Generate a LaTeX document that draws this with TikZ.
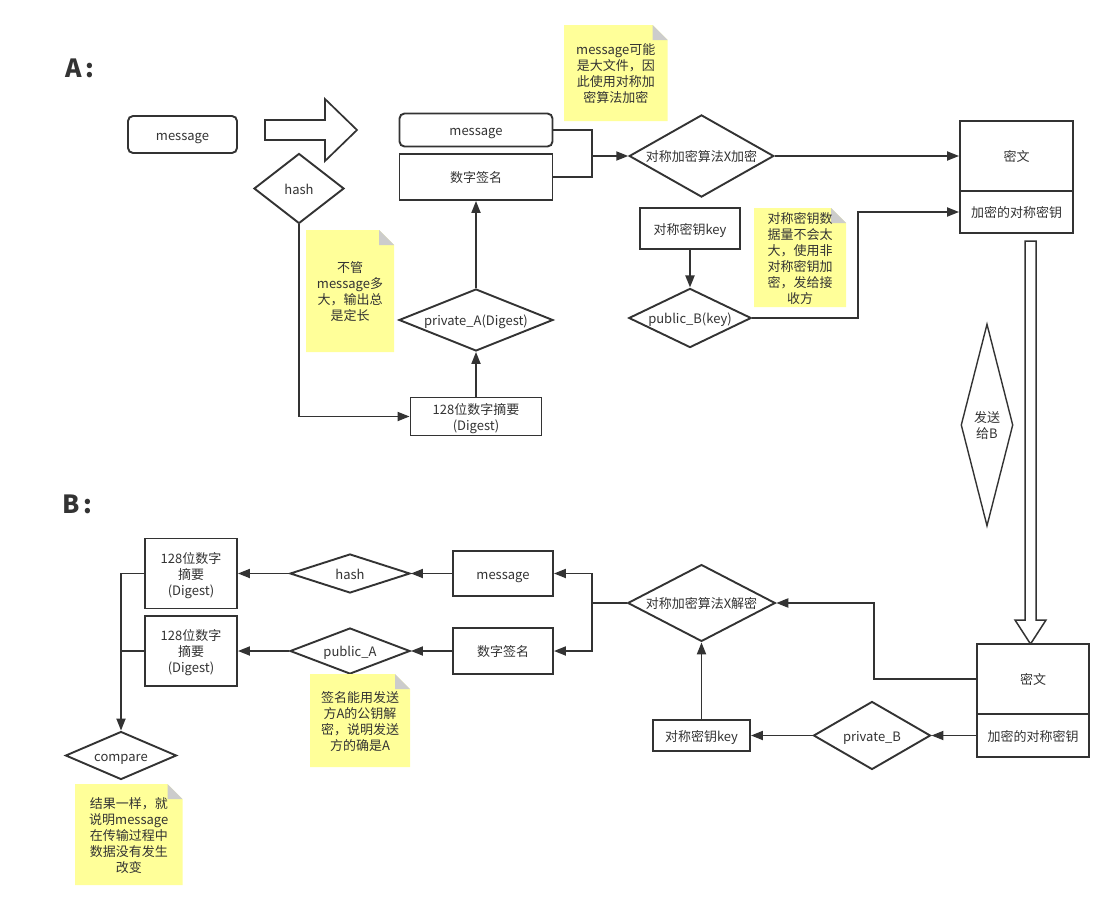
\documentclass[tikz,border=0pt]{standalone}
\usepackage{fontspec}
\setmainfont{Noto Sans CJK SC}
\XeTeXuseglyphmetrics=0
\usetikzlibrary{shapes.geometric,arrows.meta}
\definecolor{ln}{HTML}{333333}
\definecolor{noteyellow}{HTML}{FFFF99}
\definecolor{foldgray}{HTML}{CCCCCC}
\newcommand\mynodefont{\fontsize{13}{16}\selectfont}
\newcommand\mynote[6]{%
  \fill[noteyellow] (#2,#3) -- (#4-15,#3) -- (#4,#3+15) -- (#4,#5) -- (#2,#5) -- cycle;
  \fill[foldgray] (#4-15,#3) -- (#4-15,#3+15) -- (#4,#3+15) -- cycle;
  \node (#1) at ({(#2+#4)/2},{(#3+#5)/2}) {#6};
}
\begin{document}
\lineskiplimit=-20pt
\begin{tikzpicture}[x=1pt,y=-1pt,
  every node/.style={font=\mynodefont, text=ln, inner sep=0pt, align=center},
  box/.style={draw=ln, line width=1.9pt, rectangle, fill=white},
  rbox/.style={box, rounded corners=5pt},
  dia/.style n args={3}{draw=ln, line width=1.9pt, diamond, fill=white,
     minimum width=#1, minimum height=#2, shape aspect=#3},
  conn/.style={draw=ln, line width=1.9pt, -{Triangle[length=12pt,width=9pt]}},
  plainline/.style={draw=ln, line width=1.9pt},
  hollow/.style={draw=ln, line width=1.7pt, fill=white, line join=miter},
  title/.style={font=\fontsize{25}{28}\selectfont\bfseries, anchor=west}
]
\fill[white] (0,0) rectangle (1114,910);
\useasboundingbox (0,0) rectangle (1114,910);

% titles
\node[title] (tA) at (65,67) {A\,:};
\node[title] (tB) at (62,503) {B\,:};

% ---------- A ----------
\node[rbox, minimum width=109pt, minimum height=37pt] (m1) at (182.5,134.5) {message};
\draw[hollow] (265,120) -- (325,120) -- (325,99) -- (357,130) -- (325,161) -- (325,140) -- (265,140) -- cycle;
\node[dia={90pt}{70pt}{1.29}] (hash1) at (299,188.5) {hash};
\node[rbox, minimum width=153pt, minimum height=33pt] (m2) at (476,130) {message};
\node[box, minimum width=153pt, minimum height=46pt] (sig1) at (476,177) {数字签名};
\node[dia={141pt}{80pt}{1.76}] (enc) at (701.5,156) {对称加密算法X加密};
\node[box, minimum width=113pt, minimum height=70pt] (ct1) at (1016.5,156) {密文};
\node[box, minimum width=113pt, minimum height=42pt] (ek1) at (1016.5,212) {加密的对称密钥};
\node[box, minimum width=100pt, minimum height=41pt] (key1) at (690,228.5) {对称密钥key};
\node[dia={120pt}{58pt}{2.07}] (pubB) at (690,318) {public\_B(key)};
\node[dia={154pt}{62pt}{2.48}] (privA) at (476,320) {private\_A(Digest)};
\node[box, minimum width=131pt, minimum height=38pt] (dg1) at (476,416.5) {128位数字摘要\\(Digest)};

\coordinate (jA) at (592,156);
\draw[plainline] (m2.east) -| (jA) |- (sig1.east);
\draw[conn] (jA) -- (enc.west);
\draw[conn] (enc.east) -- (ct1.west);
\draw[conn] (key1.south) -- (pubB.north);
\draw[conn] (pubB.east) -- ++(106,0) |- (ek1.west);
\draw[conn] (hash1.south) |- (dg1.west);
\draw[conn] (dg1.north) -- (privA.south);
\draw[conn] (privA.north) -- (sig1.south);

\mynote{n1}{564}{25}{667.5}{121}{message可能\\是大文件，因\\此使用对称加\\密算法加密}
\mynote{n2}{754}{208}{846}{307}{对称密钥数\\据量不会太\\大，使用非\\对称密钥加\\密，发给接\\收方}
\mynote{n3}{306}{230}{394}{352}{不管\\message多\\大，输出总\\是定长}

% transfer
\draw[hollow, line width=1.5pt] (1025,241) -- (1036,241) -- (1036,620) -- (1046,620) -- (1030.5,644) -- (1015,620) -- (1025,620) -- cycle;
\node[dia={52pt}{202pt}{0.257}, line width=1.4pt] (send) at (987,425) {发送\\给B};

% ---------- B ----------
\node[box, minimum width=112pt, minimum height=70pt] (ct2) at (1033,679) {密文};
\node[box, minimum width=112pt, minimum height=43pt] (ek2) at (1033,735.5) {加密的对称密钥};
\node[dia={142pt}{74pt}{1.92}] (dec) at (701.5,603) {对称加密算法X解密};
\node[dia={117pt}{68pt}{1.72}] (privB) at (872,735.5) {private\_B};
\node[box, minimum width=97pt, minimum height=31pt] (key2) at (701.5,735.5) {对称密钥key};
\node[box, minimum width=100pt, minimum height=45pt] (m3) at (503,573.5) {message};
\node[box, minimum width=100pt, minimum height=46pt] (sig2) at (503,651) {数字签名};
\node[dia={120pt}{39pt}{3.08}] (hash2) at (350,573.5) {hash};
\node[dia={120pt}{46pt}{2.6}] (pubA) at (350,651) {public\_A};
\node[box, minimum width=92pt, minimum height=70pt] (d1) at (191,573.5) {128位数字\\摘要\\(Digest)};
\node[box, minimum width=92pt, minimum height=70pt] (d2) at (191,651) {128位数字\\摘要\\(Digest)};
\node[dia={111pt}{48pt}{2.31}] (cmp) at (121,755.5) {compare};

\draw[conn] (ct2.west) -- ++(-102,0) |- (dec.east);
\draw[conn] (ek2.west) -- (privB.east);
\draw[conn] (privB.west) -- (key2.east);
\draw[conn] (key2.north) -- (dec.south);
\coordinate (jB) at (592,603);
\draw[plainline] (dec.west) -- (jB);
\draw[conn] (jB) |- (m3.east);
\draw[conn] (jB) |- (sig2.east);
\draw[conn] (m3.west) -- (hash2.east);
\draw[conn] (sig2.west) -- (pubA.east);
\draw[conn] (hash2.west) -- (d1.east);
\draw[conn] (pubA.west) -- (d2.east);
\draw[conn] (d1.west) -| (cmp.north);
\draw[plainline] (d2.west) -- (d2.west -| cmp.north);

\mynote{n4}{310}{674}{410}{767}{签名能用发送\\方A的公钥解\\密，说明发送\\方的确是A}
\mynote{n5}{75}{784}{182.5}{885}{结果一样，就\\说明message\\在传输过程中\\数据没有发生\\改变}
\end{tikzpicture}
\end{document}
